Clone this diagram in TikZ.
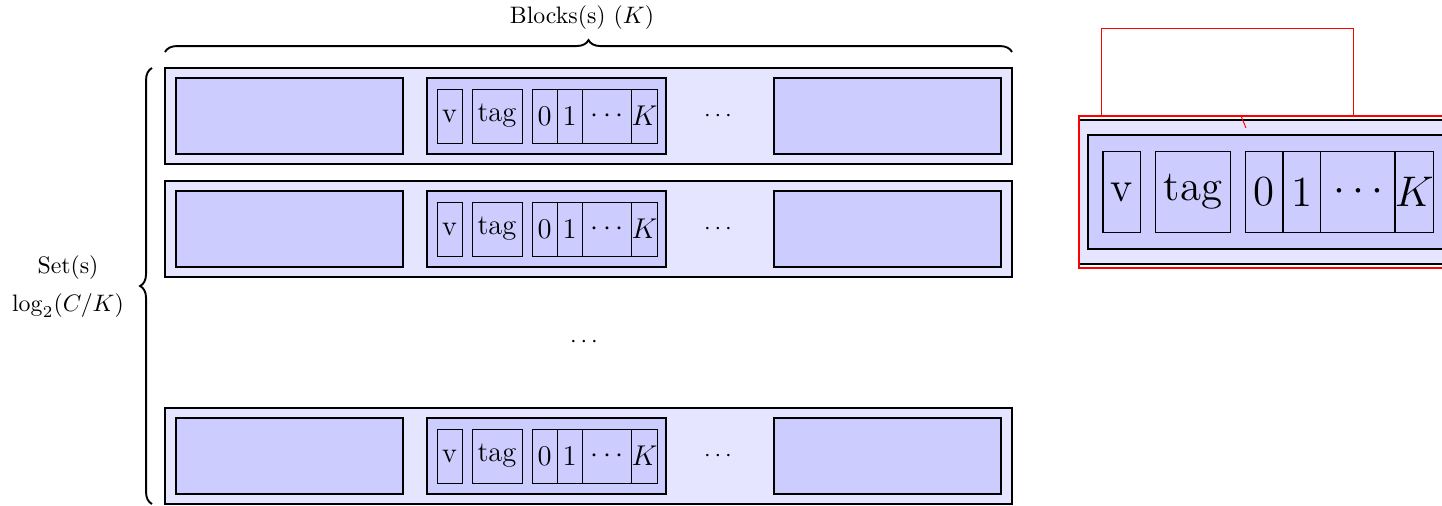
\documentclass[tikz,border=0pt]{standalone}
\usetikzlibrary{decorations.pathreplacing}
\def\u{0.42pt}
\tikzset{
  x=0.42pt, y=-0.42pt,
  outerbox/.style={draw=black, thick, fill=blue!10, inner sep=0pt},
  blockbox/.style={draw=black, thick, fill=blue!20, inner sep=0pt},
  cellbox/.style={draw=black, thin, fill=blue!20, inner sep=0pt, minimum height=54*\u, font=\large},
  bracestyle/.style={draw, thick, decorate, decoration={brace, amplitude=5pt}},
  spyline/.style={draw=red, thin},
}
\newcommand{\cacherow}[2]{%
  \node[outerbox, minimum width=847*\u, minimum height=96*\u] (#1o) at (588.5,#2+48) {};
  \node[blockbox, minimum width=227*\u, minimum height=76*\u] (#1l) at (289.5,#2+48) {};
  \node[blockbox, minimum width=239*\u, minimum height=76*\u] (#1m) at (546.5,#2+48) {};
  \node[blockbox, minimum width=227*\u, minimum height=76*\u] (#1r) at (887.5,#2+48) {};
  \node[cellbox, minimum width=25*\u] (#1v) at (449.5,#2+48) {v};
  \node[cellbox, minimum width=50*\u] (#1t) at (497,#2+48) {tag};
  \node[cellbox, minimum width=25*\u] (#1z) at (544.5,#2+48) {0};
  \node[cellbox, minimum width=25*\u] (#1a) at (569.5,#2+48) {1};
  \node[cellbox, minimum width=50*\u] (#1c) at (607,#2+48) {$\cdots$};
  \node[cellbox, minimum width=25*\u] (#1k) at (644.5,#2+48) {$K$};
  \node (#1d) at (718,#2+48) {$\cdots$};
}
\begin{document}
\begin{tikzpicture}
\useasboundingbox (0,0) rectangle (1442,505);
\cacherow{a}{68}
\cacherow{b}{181}
\cacherow{c}{408}
\node (vdots) at (584,342) {$\cdots$};
% braces
\coordinate (tbl) at (165,52);
\coordinate (tbr) at (1012,52);
\draw[bracestyle] (tbl) -- (tbr);
\node (blk) at (582,18) {Blocks(s) $(K)$};
\coordinate (lbb) at (152,504);
\coordinate (lbt) at (152,68);
\draw[bracestyle] (lbb) -- (lbt);
\node (set1) at (68,268) {Set(s)};
\node (set2) at (68,306) {$\log_2(C/K)$};
% magnified view
\begin{scope}
  \clip (1079,116) rectangle (1450,268);
  \begin{scope}[shift={(447.5,18)}, scale=1.5, transform shape,
      outerbox/.append style={line width=1.2pt},
      blockbox/.append style={line width=1.2pt},
      cellbox/.append style={line width=0.6pt}]
    \cacherow{m}{68}
  \end{scope}
\end{scope}
\coordinate (s1) at (1101,116);
\coordinate (s2) at (1101,28);
\coordinate (s3) at (1353,28);
\coordinate (s4) at (1353,116);
\draw[spyline] (s1) -- (s2) -- (s3) -- (s4);
\coordinate (c1) at (1241,116);
\coordinate (c2) at (1246,128);
\draw[spyline] (c1) -- (c2);
\coordinate (z1) at (1079,116);
\coordinate (z2) at (1450,268);
\draw[red, thick] (z1) rectangle (z2);
\end{tikzpicture}
\end{document}
